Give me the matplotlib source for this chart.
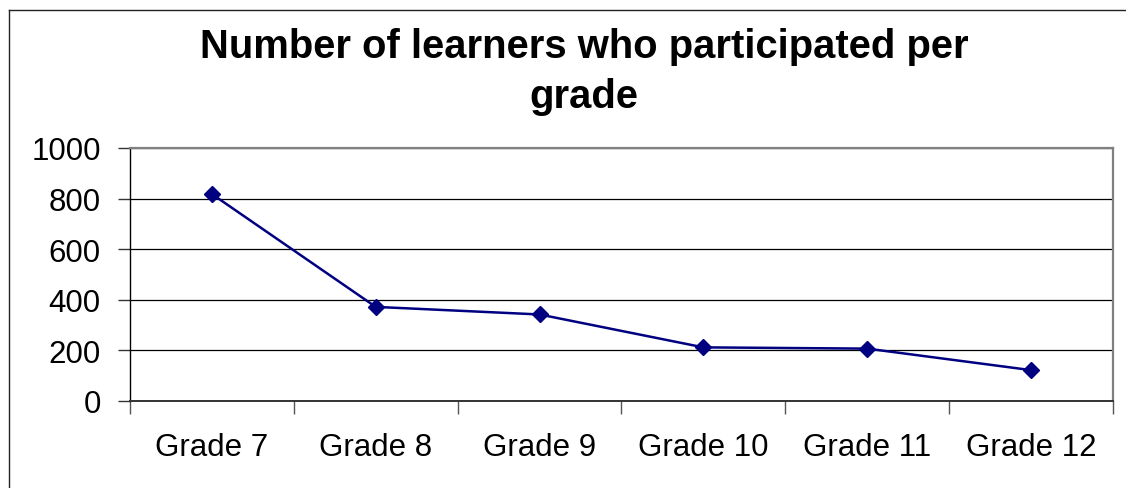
import numpy as np
import matplotlib
matplotlib.use("Agg")
import matplotlib.pyplot as plt
from matplotlib.lines import Line2D

plt.rcParams['font.family'] = ['Liberation Sans', 'DejaVu Sans']

# data
grades = ['Grade 7', 'Grade 8', 'Grade 9', 'Grade 10', 'Grade 11', 'Grade 12']
learners = [818, 372, 342, 212, 207, 122]
y_ticks = [0, 200, 400, 600, 800, 1000]
title_lines = ['Number of learners who participated per', 'grade']

fig = plt.figure(figsize=(11.26, 4.89), dpi=100)
ax = fig.add_axes([130/1126, 87/489, 983/1126, 253/489])

x = np.arange(len(grades))
ax.plot(x, learners, color='#000080', linewidth=1.8,
        marker='D', markersize=8, markerfacecolor='#000080', markeredgecolor='#000080',
        zorder=3)

ax.set_xlim(-0.5, len(grades) - 0.5)
ax.set_ylim(0, 1000)
ax.set_yticks(y_ticks)
ax.set_yticklabels([str(v) for v in y_ticks])
# category ticks sit between the labels, as in the spreadsheet chart
ax.set_xticks(np.arange(len(grades) + 1) - 0.5)
ax.set_xticklabels([])
ax.set_xticks(x, minor=True)
ax.set_xticklabels(grades, minor=True)
ax.tick_params(axis='x', which='minor', length=0, pad=22, labelsize=22.5)
ax.tick_params(axis='x', which='major', direction='out', length=9, width=1, color='#555555')
ax.tick_params(axis='y', direction='out', length=9, width=1, pad=12, labelsize=22.5,
               color='#333333')

ax.grid(axis='y', color='black', linewidth=0.9)
ax.set_axisbelow(True)
for s in ['top', 'right']:
    ax.spines[s].set_color('#808080')
    ax.spines[s].set_linewidth(1.6)
ax.spines['left'].set_color('black')
ax.spines['bottom'].set_color('#333333')
ax.spines['left'].set_linewidth(1)
ax.spines['bottom'].set_linewidth(1.4)

# title, two centred lines
fig.text(584/1126, 1 - 58/489, title_lines[0], ha='center', va='baseline',
         fontsize=28.8, fontweight='bold')
fig.text(584/1126, 1 - 108/489, title_lines[1], ha='center', va='baseline',
         fontsize=28.8, fontweight='bold')

# outer chart frame (left and top edges visible)
fig.add_artist(Line2D([9/1126, 9/1126], [0, 1 - 10.5/489], transform=fig.transFigure,
                      color='#222222', linewidth=1))
fig.add_artist(Line2D([9/1126, 1], [1 - 10.5/489, 1 - 10.5/489], transform=fig.transFigure,
                      color='#222222', linewidth=1))

fig.savefig('out.png', dpi=100)
